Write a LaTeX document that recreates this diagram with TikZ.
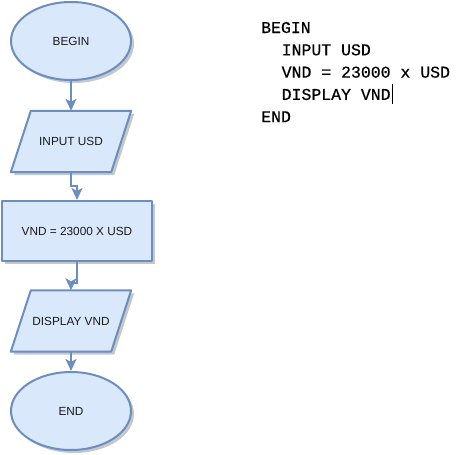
\documentclass[tikz,border=0pt]{standalone}
\usepackage{fontspec}
\setmainfont{Liberation Sans}
\newfontfamily\codefont[FakeBold=0.5]{Liberation Mono}
\usetikzlibrary{shapes.geometric,shadows,arrows.meta}
\definecolor{boxfill}{HTML}{DAE8FC}
\definecolor{boxline}{HTML}{6C8EBF}
\definecolor{txt}{HTML}{1A1A1A}
\pgfdeclarelayer{bg}
\pgfsetlayers{bg,main}
\tikzset{
  outline/.style={draw=boxline, fill=boxfill, line width=2pt, line join=round,
    drop shadow={shadow xshift=3pt, shadow yshift=-3pt, fill=black, opacity=0.22}},
  base/.style={outline, text=txt,
    font=\fontsize{11.8}{14}\selectfont, inner sep=0pt},
  term/.style={base, ellipse, minimum width=120pt, minimum height=78pt},
  io/.style={rectangle, text=txt, font=\fontsize{11.8}{14}\selectfont,
    inner sep=0pt, minimum width=100pt, minimum height=61pt},
  proc/.style={base, rectangle, minimum width=150pt, minimum height=60pt},
  conn/.style={draw=boxline, line width=2pt,
    -{Stealth[length=12pt, width=11pt, inset=3pt]}},
  code/.style={anchor=base west, inner sep=0pt, text=black,
    font=\codefont\fontsize{16.5}{20}\selectfont}
}
\begin{document}
\begin{tikzpicture}[x=1pt, y=-1pt]
\useasboundingbox (0,0) rectangle (464,455);
\node[term] (begin) at (71,41) {BEGIN};
\node[io] (in) at (71,141.5) {INPUT USD};
\node[proc] (calc) at (77,231) {VND = 23000 X USD};
\node[io] (disp) at (71,321) {DISPLAY VND};
\node[term] (end) at (71,411) {END};
\begin{pgfonlayer}{bg}
\path[outline] ([xshift=10pt]in.north west) -- ([xshift=10pt]in.north east)
  -- ([xshift=-10pt]in.south east) -- ([xshift=-10pt]in.south west) -- cycle;
\path[outline] ([xshift=10pt]disp.north west) -- ([xshift=10pt]disp.north east)
  -- ([xshift=-10pt]disp.south east) -- ([xshift=-10pt]disp.south west) -- cycle;
\end{pgfonlayer}
\draw[conn] (begin.south) -- (in.north);
\draw[conn] (in.south) -- ++(0,14) -| (calc.north);
\draw[conn] (calc.south) -- ++(0,21) -| (disp.north);
\draw[conn] (disp.south) -- (end.north);
\node[code] (l1) at (261,33) {BEGIN};
\node[code] (l2) at (281.5,55.3) {INPUT USD};
\node[code] (l3) at (281.5,77.6) {VND = 23000 x USD};
\node[code] (l4) at (281.5,99.9) {DISPLAY VND};
\node[code] (l5) at (261,122.2) {END};
\draw[black, line width=0.8pt] (l4.base east) ++(1.5,4) -- ++(0,-20);
\end{tikzpicture}
\end{document}
